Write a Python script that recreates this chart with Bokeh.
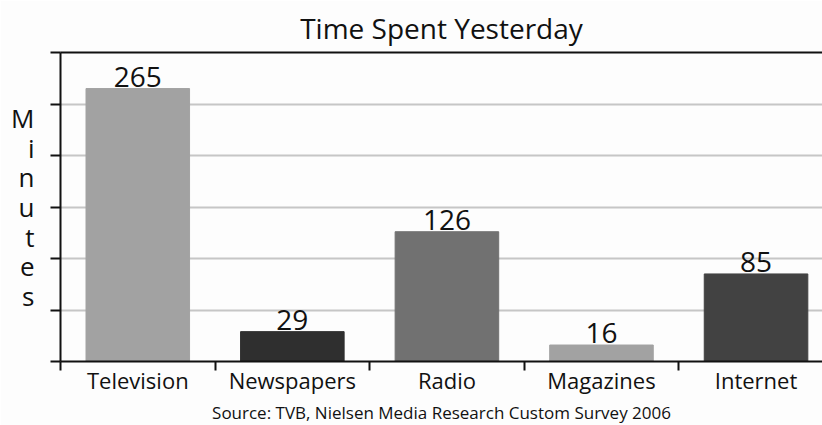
from bokeh.plotting import figure
from bokeh.models import (ColumnDataSource, Range1d, FixedTicker, LinearAxis, Title)
from bokeh.core.properties import value
from bokeh.embed import file_html
from bokeh.resources import INLINE

categories = ["Television", "Newspapers", "Radio", "Magazines", "Internet"]
minutes = [265, 29, 126, 16, 85]
bar_colors = ["#a2a2a2", "#2f2f2f", "#717171", "#a2a2a2", "#424242"]
y_ticks = [0, 50, 100, 150, 200, 250, 300]
y_title = "Minutes"

FONT = "Open Sans"
INK = "#111111"

xs = list(range(len(categories)))
src = ColumnDataSource(dict(x=xs, y=minutes, c=bar_colors,
                            lbl=[str(v) for v in minutes]))

p = figure(width=822, height=425, output_backend="svg", toolbar_location=None,
           x_range=Range1d(-0.5, 4.43), y_range=Range1d(0, 300),
           min_border_left=60, min_border_right=0, min_border_top=0,
           min_border_bottom=0, outline_line_color=None,
           background_fill_color="#fdfdfd", border_fill_color="#fdfdfd")

# grid
p.xgrid.visible = False
p.ygrid.ticker = FixedTicker(ticks=y_ticks)
p.ygrid.grid_line_color = "#c6c6c6"
p.ygrid.grid_line_width = 2

p.vbar(x="x", top="y", width=0.67, fill_color="c", line_color="c", source=src)
p.text(x="x", y="y", text="lbl", text_align="center", text_baseline="bottom",
       y_offset=-2, text_font_size="28px", text_color=INK,
       text_font=value(FONT), source=src)

# title
p.title.text = "Time Spent Yesterday"
p.title.align = "center"
p.title.text_font = FONT
p.title.text_font_size = "28px"
p.title.text_font_style = "normal"
p.title.text_color = INK
p.title.standoff = 12

# y axis: ticks only (minor ticks carry no labels)
ya = p.yaxis[0]
ya.ticker = FixedTicker(ticks=[], minor_ticks=y_ticks)
ya.major_tick_out = 0
ya.major_tick_in = 0
ya.minor_tick_out = 10
ya.minor_tick_in = 0
ya.minor_tick_line_width = 2
ya.minor_tick_line_color = INK
ya.axis_line_width = 2
ya.axis_line_color = INK
ya.axis_label = "\n".join(y_title)
ya.axis_label_orientation = "horizontal"
ya.axis_label_text_font = FONT
ya.axis_label_text_font_size = "26px"
ya.axis_label_text_font_style = "normal"
ya.axis_label_text_color = INK
ya.axis_label_text_line_height = 0.82
ya.axis_label_standoff = 16

# x axis
xa = p.xaxis[0]
xa.ticker = FixedTicker(ticks=xs, minor_ticks=[-0.5, 0.5, 1.5, 2.5, 3.5])
xa.major_label_overrides = {i: c for i, c in enumerate(categories)}
xa.major_tick_out = 0
xa.major_tick_in = 0
xa.minor_tick_out = 9
xa.minor_tick_in = 0
xa.minor_tick_line_width = 2
xa.minor_tick_line_color = INK
xa.axis_line_width = 2
xa.axis_line_color = INK
xa.major_label_text_font = FONT
xa.major_label_text_font_size = "22px"
xa.major_label_text_color = INK
xa.major_label_standoff = -6

# top line
top = LinearAxis(ticker=FixedTicker(ticks=[]), major_tick_out=0, major_tick_in=0,
                 minor_tick_out=0, minor_tick_in=0,
                 axis_line_width=2, axis_line_color=INK)
p.add_layout(top, "above")

# source
p.add_layout(Title(text="Source: TVB, Nielsen Media Research Custom Survey 2006",
                   align="center", text_font=FONT, text_font_size="17px",
                   text_font_style="normal", text_color=INK, standoff=3),
             "below")

open("out.html", "w").write(file_html(p, INLINE))
